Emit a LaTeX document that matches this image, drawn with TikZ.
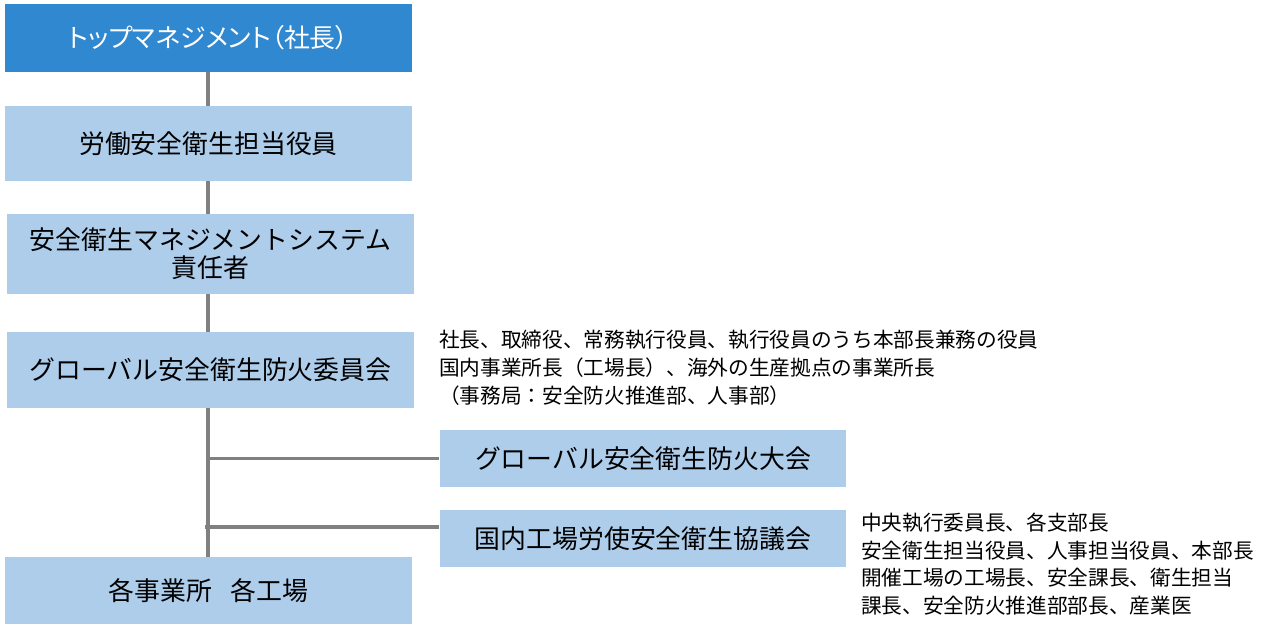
\documentclass[tikz,border=0pt]{standalone}
\usepackage{fontspec}
\setmainfont{Noto Sans CJK JP}
\newfontfamily\paltfont[RawFeature=+palt]{Noto Sans CJK JP}
\definecolor{topblue}{RGB}{48,136,208}
\definecolor{boxblue}{RGB}{173,205,235}
\definecolor{linegray}{RGB}{128,128,128}
\begin{document}
\begin{tikzpicture}[x=0.75pt,y=-0.75pt,
  orgbox/.style={fill=boxblue,inner sep=0pt,minimum width=305pt,align=center,font=\fontsize{19.4pt}{24pt}\selectfont},
  notetext/.style={anchor=west,inner sep=0pt,align=left,font=\fontsize{15.5pt}{20.8pt}\selectfont},
  link/.style={draw=linegray,line width=2.6pt}]

\useasboundingbox (0,0) rectangle (1261,631);

\node[orgbox,fill=topblue,text=white,minimum height=51pt,font=\paltfont\fontsize{19.4pt}{24pt}\selectfont] (top) at (208.5,38) {トップマネジメント（社長）};
\node[orgbox,minimum height=56pt] (officer) at (208.5,143.5) {労働安全衛生担当役員};
\node[orgbox,minimum height=60pt] (manager) at (210.5,254) {安全衛生マネジメントシステム\\[-3pt]責任者};
\node[orgbox,minimum height=57pt] (committee) at (210.5,370) {グローバル安全衛生防火委員会};
\node[orgbox,minimum height=43pt] (convention) at (643,458.5) {グローバル安全衛生防火大会};
\node[orgbox,minimum height=43pt] (council) at (643,538.5) {国内工場労使安全衛生協議会};
\node[orgbox,minimum height=50pt] (sites) at (208.5,590.5) {各事業所\hspace{0.7em}各工場};

\node[notetext] (membersA) at (439,368) {社長、取締役、常務執行役員、執行役員のうち本部長兼務の役員\\国内事業所長（工場長）、海外の生産拠点の事業所長\\（事務局：安全防火推進部、人事部）};
\node[notetext,font=\fontsize{15.5pt}{20.6pt}\selectfont] (membersB) at (861,564) {中央執行委員長、各支部長\\安全衛生担当役員、人事担当役員、本部長\\開催工場の工場長、安全課長、衛生担当\\課長、安全防火推進部部長、産業医};

\coordinate (junctionA) at (208,458.5);
\coordinate (junctionB) at (205,527);

\draw[link] (top.south -| 208,0) -- (officer.north -| 208,0);
\draw[link] (officer.south -| 208,0) -- (manager.north -| 208,0);
\draw[link] (manager.south -| 208,0) -- (committee.north -| 208,0);
\draw[link] (committee.south -| 208,0) -- (sites.north -| 208,0);
\draw[link] (junctionA) -- (convention.west);
\draw[link] (junctionB) -- (council.west |- junctionB);

\end{tikzpicture}
\end{document}
